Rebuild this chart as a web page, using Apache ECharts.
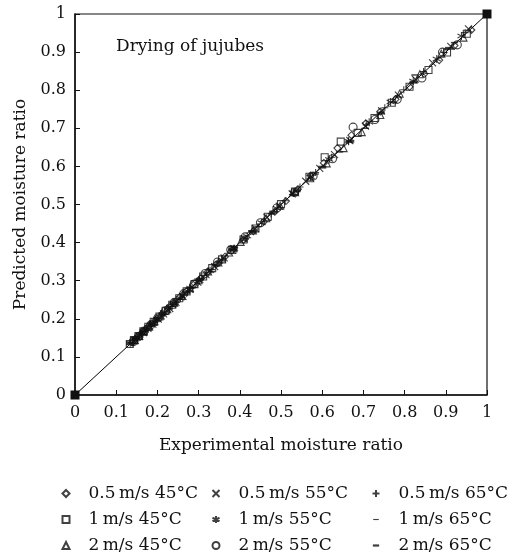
<!DOCTYPE html>
<html>
<head>
<meta charset="utf-8">
<script src="https://cdn.jsdelivr.net/npm/echarts@6/dist/echarts.min.js"></script>
<style>html,body{margin:0;padding:0;background:#fff}#c{width:514px;height:558px}</style>
</head>
<body>
<div id="c"></div>
<script>
const axisTicks = [0,0.1,0.2,0.3,0.4,0.5,0.6,0.7,0.8,0.9,1];
const seriesNames = ['0.5\u2009m/s 45°C','1\u2009m/s 45°C','2\u2009m/s 45°C','0.5\u2009m/s 55°C','1\u2009m/s 55°C','2\u2009m/s 55°C','0.5\u2009m/s 65°C','1\u2009m/s 65°C','2\u2009m/s 65°C'];

const exp_05_45 = [0.962,0.921,0.884,0.848,0.812,0.778,0.741,0.706,0.671,0.637,0.604,0.572,0.541,0.512,0.485,0.458,0.433,0.409,0.386,0.364,0.343,0.323,0.305,0.287,0.270,0.254,0.239,0.225,0.212,0.199,0.187,0.176,0.166,0.156,0.147,0.139];
const pred_05_45 = [0.958,0.917,0.879,0.843,0.809,0.776,0.744,0.713,0.682,0.648,0.609,0.576,0.540,0.509,0.481,0.455,0.430,0.407,0.384,0.363,0.343,0.324,0.306,0.289,0.272,0.257,0.242,0.228,0.214,0.201,0.189,0.178,0.167,0.157,0.147,0.138];

const exp_1_45 = [0.951,0.903,0.858,0.812,0.769,0.727,0.686,0.645,0.606,0.569,0.534,0.500,0.468,0.438,0.409,0.382,0.357,0.333,0.311,0.290,0.271,0.253,0.236,0.220,0.205,0.191,0.178,0.166,0.154,0.143,0.133];
const pred_1_45 = [0.948,0.899,0.853,0.809,0.767,0.727,0.688,0.665,0.624,0.573,0.534,0.501,0.468,0.437,0.408,0.381,0.356,0.333,0.311,0.291,0.272,0.254,0.237,0.221,0.206,0.192,0.179,0.167,0.155,0.144,0.134];

const exp_2_45 = [0.943,0.889,0.837,0.788,0.741,0.696,0.652,0.611,0.571,0.534,0.498,0.464,0.432,0.402,0.374,0.348,0.323,0.300,0.279,0.259,0.241,0.224,0.208,0.193,0.180,0.167,0.156,0.145];
const pred_2_45 = [0.938,0.896,0.842,0.791,0.735,0.690,0.648,0.608,0.569,0.532,0.497,0.464,0.432,0.402,0.374,0.348,0.324,0.301,0.280,0.260,0.242,0.225,0.209,0.194,0.180,0.167,0.155,0.144];

const exp_05_55 = [0.955,0.912,0.868,0.826,0.785,0.744,0.705,0.667,0.630,0.594,0.560,0.527,0.496,0.466,0.438,0.411,0.386,0.362,0.339,0.318,0.298,0.279,0.262,0.245,0.230,0.215,0.202,0.189,0.177,0.166,0.156,0.146];
const pred_05_55 = [0.961,0.915,0.872,0.829,0.787,0.746,0.706,0.668,0.631,0.595,0.561,0.528,0.496,0.466,0.437,0.410,0.384,0.360,0.337,0.316,0.296,0.277,0.259,0.243,0.227,0.213,0.199,0.186,0.175,0.164,0.153,0.144];

const exp_1_55 = [0.938,0.878,0.821,0.766,0.714,0.664,0.617,0.572,0.530,0.490,0.453,0.418,0.386,0.356,0.328,0.302,0.278,0.256,0.236,0.217,0.200,0.184,0.170,0.157,0.145,0.134];
const pred_1_55 = [0.942,0.882,0.824,0.769,0.716,0.666,0.618,0.573,0.530,0.490,0.452,0.417,0.384,0.354,0.326,0.300,0.276,0.254,0.234,0.216,0.199,0.184,0.170,0.157,0.146,0.136];

const exp_2_55 = [0.928,0.892,0.842,0.782,0.728,0.675,0.625,0.578,0.533,0.490,0.450,0.413,0.378,0.346,0.316,0.289,0.264,0.241,0.220,0.201,0.184,0.168,0.154,0.141];
const pred_2_55 = [0.919,0.900,0.832,0.776,0.723,0.703,0.620,0.575,0.532,0.491,0.452,0.415,0.381,0.349,0.319,0.291,0.266,0.243,0.221,0.202,0.184,0.168,0.153,0.140];

const exp_05_65 = [0.947,0.896,0.846,0.798,0.752,0.707,0.664,0.623,0.584,0.546,0.510,0.476,0.444,0.413,0.384,0.357,0.332,0.308,0.286,0.265,0.246,0.228,0.211,0.196,0.182,0.168,0.156,0.145];
const pred_05_65 = [0.951,0.899,0.849,0.801,0.754,0.709,0.666,0.624,0.584,0.546,0.510,0.475,0.442,0.411,0.382,0.354,0.329,0.305,0.283,0.262,0.243,0.226,0.209,0.194,0.180,0.167,0.155,0.144];

const exp_1_65 = [0.921,0.825,0.773,0.705,0.642,0.583,0.528,0.477,0.430,0.387,0.348,0.312,0.280,0.251,0.225,0.202,0.181,0.162,0.146];
const pred_1_65 = [0.925,0.840,0.768,0.700,0.638,0.580,0.526,0.476,0.430,0.388,0.349,0.314,0.282,0.253,0.227,0.203,0.182,0.163,0.147];

const exp_2_65 = [0.908,0.822,0.742,0.668,0.600,0.538,0.481,0.430,0.383,0.341,0.303,0.269,0.239,0.212,0.188,0.167,0.148,0.134];
const pred_2_65 = [0.910,0.821,0.740,0.666,0.598,0.536,0.480,0.429,0.383,0.341,0.304,0.270,0.240,0.213,0.189,0.168,0.150,0.136];

const lineX = [0, 1];
const lineY = [0, 1];

const FONT = 'DejaVu Serif';
const pairs = (a, b) => a.map((v, i) => [v, b[i]]);

const SYM = {
  diamond: 'diamond',
  square: 'rect',
  triangle: 'triangle',
  cross: 'path://M0,0L10,10M10,0L0,10',
  star: 'path://M5,0L5,10M0,2.5L10,7.5M10,2.5L0,7.5',
  circle: 'circle',
  plus: 'path://M5,0L5,10M0,5L10,5',
  dash: 'path://M0,0M10,10M1,4.2L9,4.2L9,5.8L1,5.8Z',
  thick: 'path://M0,0M10,10M0.5,3.4L9.5,3.4L9.5,6.6L0.5,6.6Z'
};

const defs = [
  {name: seriesNames[0], d: pairs(exp_05_45, pred_05_45), sym: SYM.diamond, size: 7, fill: false},
  {name: seriesNames[1], d: pairs(exp_1_45, pred_1_45), sym: SYM.square, size: 7, fill: false},
  {name: seriesNames[2], d: pairs(exp_2_45, pred_2_45), sym: SYM.triangle, size: 7, fill: false},
  {name: seriesNames[3], d: pairs(exp_05_55, pred_05_55), sym: SYM.cross, size: 7, fill: false},
  {name: seriesNames[4], d: pairs(exp_1_55, pred_1_55), sym: SYM.star, size: 8, fill: false},
  {name: seriesNames[5], d: pairs(exp_2_55, pred_2_55), sym: SYM.circle, size: 8, fill: false},
  {name: seriesNames[6], d: pairs(exp_05_65, pred_05_65), sym: SYM.plus, size: 7, fill: false},
  {name: seriesNames[7], d: pairs(exp_1_65, pred_1_65), sym: SYM.dash, size: 9, fill: true},
  {name: seriesNames[8], d: pairs(exp_2_65, pred_2_65), sym: SYM.thick, size: 9, fill: true}
];

const series = [{
  type: 'line',
  data: pairs(lineX, lineY),
  symbol: 'rect',
  symbolSize: 9,
  lineStyle: {color: '#000', width: 1},
  itemStyle: {color: '#111'},
  z: 1,
  silent: true
}];
defs.forEach(s => {
  series.push({
    name: s.name,
    type: 'scatter',
    data: s.d,
    symbol: s.sym,
    symbolSize: s.size,
    itemStyle: s.fill ? {color: '#111'} : {color: 'rgba(255,255,255,0)', borderColor: '#111', borderWidth: 1.1},
    z: 3
  });
});

function legendCol(names, left) {
  return {
    orient: 'vertical',
    left: left,
    top: 485,
    padding: 0,
    itemWidth: 7,
    itemHeight: 7,
    itemGap: 9,
    selectedMode: false,
    textStyle: {fontFamily: FONT, fontSize: 17, color: '#111', lineHeight: 17, padding: [0, 0, 0, 14]},
    data: names.map(n => ({name: n}))
  };
}

const chart = echarts.init(document.getElementById('c'));
chart.setOption({
  animation: false,
  backgroundColor: '#fff',
  title: {
    text: 'Drying of jujubes',
    left: 111, top: 33,
    textStyle: {fontFamily: FONT, fontSize: 17, fontWeight: 'normal', color: '#111'}
  },
  grid: {left: 75, right: 27, top: 14, bottom: 163, show: true, borderColor: '#111', borderWidth: 1.2},
  legend: [
    legendCol(seriesNames.slice(0, 3), 61.5),
    legendCol(seriesNames.slice(3, 6), 211.5),
    legendCol(seriesNames.slice(6, 9), 371.5)
  ],
  xAxis: {
    type: 'value', min: 0, max: 1, interval: 0.1,
    name: 'Experimental moisture ratio', nameLocation: 'middle', nameGap: 42,
    nameTextStyle: {fontFamily: FONT, fontSize: 17, color: '#111'},
    axisLine: {lineStyle: {color: '#111', width: 1.5}},
    axisTick: {inside: true, length: 5, lineStyle: {color: '#111'}},
    axisLabel: {fontFamily: FONT, fontSize: 16, color: '#111', margin: 10},
    splitLine: {show: false}
  },
  yAxis: {
    type: 'value', min: 0, max: 1, interval: 0.1,
    name: 'Predicted moisture ratio', nameLocation: 'middle', nameGap: 46,
    nameTextStyle: {fontFamily: FONT, fontSize: 17, color: '#111'},
    axisLine: {lineStyle: {color: '#111', width: 1.5}},
    axisTick: {inside: true, length: 5, lineStyle: {color: '#111'}},
    axisLabel: {fontFamily: FONT, fontSize: 16, color: '#111', margin: 9},
    splitLine: {show: false}
  },
  series: series
});
</script>
</body>
</html>
